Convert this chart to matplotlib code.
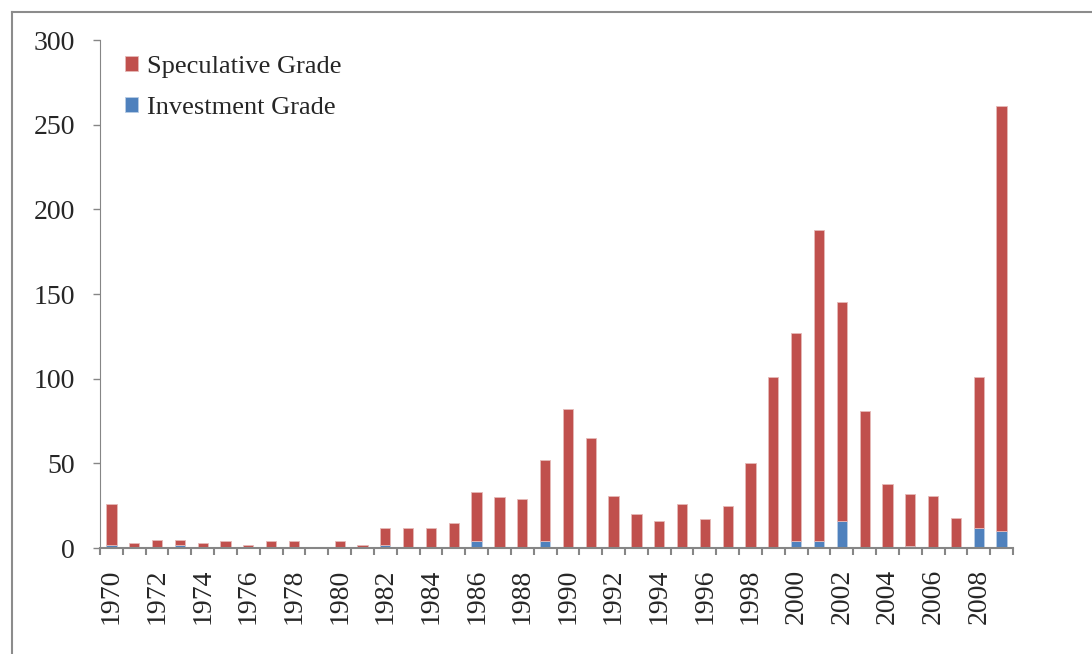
import matplotlib.pyplot as plt
import numpy as np
from matplotlib.lines import Line2D

years = list(range(1970, 2010))
investment = [2, 0, 0, 2, 0, 0, 0, 0, 0, 0,
              0, 0, 2, 0, 0, 0, 4, 0, 0, 4,
              0, 0, 0, 0, 0, 0, 0, 0, 0, 0,
              4, 4, 16, 0, 0, 1, 0, 0, 12, 10]
speculative = [24, 3, 5, 3, 3, 4, 2, 4, 4, 0,
               4, 2, 10, 12, 12, 15, 29, 30, 29, 48,
               82, 65, 31, 20, 16, 26, 17, 25, 50, 101,
               123, 184, 129, 81, 38, 31, 31, 18, 89, 251]
yticks = [0, 50, 100, 150, 200, 250, 300]

plt.rcParams['font.family'] = ['Liberation Serif', 'DejaVu Serif']

fig = plt.figure(figsize=(10.92, 6.54), dpi=100)
ax = fig.add_axes([100 / 1092, 1 - 548 / 654, 913 / 1092, 508 / 654])

x = np.arange(len(years))
ax.bar(x, investment, width=0.45, color='#4F81BD', edgecolor='#B9CDE5',
       linewidth=0.6, label='Investment Grade')
ax.bar(x, speculative, width=0.45, bottom=investment, color='#C0504D',
       edgecolor='#E6B9B8', linewidth=0.6, label='Speculative Grade')

ax.set_xlim(-0.5, len(years) - 0.5)
ax.set_ylim(0, 300)
ax.set_yticks(yticks)
ax.tick_params(axis='y', direction='out', length=5, width=1, color='#868686',
               labelsize=20, pad=13, labelcolor='#262626')

# boundary ticks (major, no labels), year labels on minor ticks
ax.set_xticks(np.arange(-0.5, len(years), 1))
ax.set_xticklabels([])
ax.set_xticks(x[::2], minor=True)
ax.set_xticklabels([str(y) for y in years[::2]], minor=True, rotation=90)
ax.tick_params(axis='x', which='major', direction='out', length=5, width=1.5,
               color='#868686')
ax.tick_params(axis='x', which='minor', length=0, labelsize=20, pad=15,
               labelcolor='#262626')

for s in ['top', 'right']:
    ax.spines[s].set_visible(False)
ax.spines['left'].set_color('#868686')
ax.spines['bottom'].set_color('#868686')
ax.spines['bottom'].set_linewidth(1.5)

h, l = ax.get_legend_handles_labels()
ax.legend(h[::-1], l[::-1], loc='upper left', bbox_to_anchor=(0.001, 1.015),
          frameon=False, fontsize=19, handlelength=0.5, handleheight=0.5,
          handletextpad=0.35, labelspacing=0.7, labelcolor='#262626')

# outer chart frame
fig.add_artist(Line2D([12 / 1092, 12 / 1092], [0, 1 - 12 / 654],
                      transform=fig.transFigure, color='#8c8c8c', lw=1.5))
fig.add_artist(Line2D([12 / 1092, 1], [1 - 12 / 654, 1 - 12 / 654],
                      transform=fig.transFigure, color='#8c8c8c', lw=1.5))

fig.savefig('out.png', dpi=100)
